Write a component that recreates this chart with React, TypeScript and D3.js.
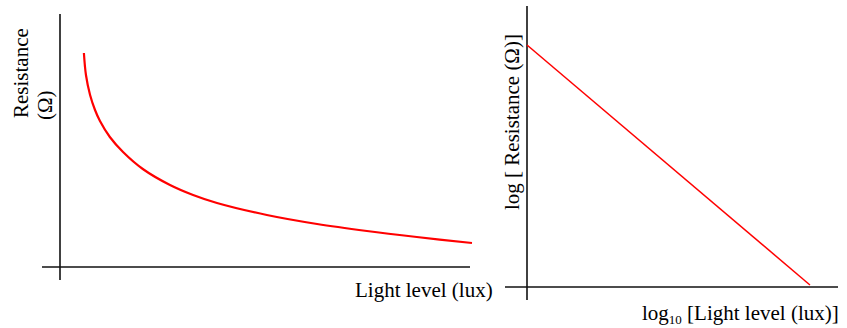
import React, { useEffect, useRef } from "react";
import * as d3 from "d3";

// left chart: resistance against light level (arbitrary units)
const lightLevel = [58, 63, 73, 85, 97, 121, 153, 201, 267, 323, 381, 502, 624, 745, 866, 1000];
const resistance = [42.8, 38.4, 34.4, 31.4, 29.2, 26, 23, 19.6, 16.4, 14.4, 12.8, 10.4, 8.6, 7.2, 6, 4.8];

// right chart: log-log straight line
const logLight = [0, 4.5];
const logResistance = [6, 0.05];

const width = 847;
const height = 328;
const font = "'Liberation Serif', 'Times New Roman', serif";

const App = () => {
  const ref = useRef<SVGSVGElement>(null);

  useEffect(() => {
    const svg = d3.select(ref.current);
    svg.selectAll("*").remove();

    // ---- left chart ----
    const x1 = d3.scaleLinear().domain([0, 1000]).range([60, 472]);
    const y1 = d3.scaleLinear().domain([0, 50]).range([267, 17]);

    const left = svg.append("g");
    // axes (plain lines crossing at the origin)
    left.append("line")
      .attr("x1", 42).attr("x2", 470)
      .attr("y1", y1(0)).attr("y2", y1(0))
      .attr("stroke", "#111").attr("stroke-width", 1.6);
    left.append("line")
      .attr("x1", x1(0)).attr("x2", x1(0))
      .attr("y1", 14).attr("y2", 280)
      .attr("stroke", "#111").attr("stroke-width", 1.6);

    const curve = d3.line<number>()
      .x((d, i) => x1(lightLevel[i]))
      .y((d) => y1(d))
      .curve(d3.curveCatmullRom);
    left.append("path")
      .datum(resistance)
      .attr("d", curve)
      .attr("fill", "none")
      .attr("stroke", "#ff0000")
      .attr("stroke-width", 2.2);

    left.append("text")
      .attr("transform", "translate(28,118) rotate(-90)")
      .attr("font-family", font).attr("font-size", 21)
      .text("Resistance");
    left.append("text")
      .attr("transform", "translate(52,120) rotate(-90)")
      .attr("font-family", font).attr("font-size", 21)
      .text("(Ω)");
    left.append("text")
      .attr("x", 355).attr("y", 297)
      .attr("font-family", font).attr("font-size", 21)
      .text("Light level (lux)");

    // ---- right chart ----
    const x2 = d3.scaleLinear().domain([0, 5]).range([527, 841.4]);
    const y2 = d3.scaleLinear().domain([0, 6]).range([287, 45]);

    const right = svg.append("g");
    right.append("line")
      .attr("x1", 505).attr("x2", 838)
      .attr("y1", y2(0)).attr("y2", y2(0))
      .attr("stroke", "#111").attr("stroke-width", 1.6);
    right.append("line")
      .attr("x1", x2(0)).attr("x2", x2(0))
      .attr("y1", 6).attr("y2", 300)
      .attr("stroke", "#111").attr("stroke-width", 1.6);

    const straight = d3.line<number>()
      .x((d, i) => x2(logLight[i]))
      .y((d) => y2(d));
    right.append("path")
      .datum(logResistance)
      .attr("d", straight)
      .attr("fill", "none")
      .attr("stroke", "#ff0000")
      .attr("stroke-width", 1.5);

    right.append("text")
      .attr("transform", "translate(519,210) rotate(-90)")
      .attr("font-family", font).attr("font-size", 21)
      .text("log [ Resistance (Ω)]");

    const xl = right.append("text")
      .attr("x", 642).attr("y", 320)
      .attr("font-family", font).attr("font-size", 21);
    xl.append("tspan").text("log");
    xl.append("tspan").attr("font-size", 13).attr("dy", 4).text("10");
    xl.append("tspan").attr("dy", -4).text(" [Light level (lux)]");
  }, []);

  return (
    <svg
      ref={ref}
      width={width}
      height={height}
      style={{ position: "absolute", left: 0, top: 0, background: "#fff" }}
    />
  );
};

export default App;
